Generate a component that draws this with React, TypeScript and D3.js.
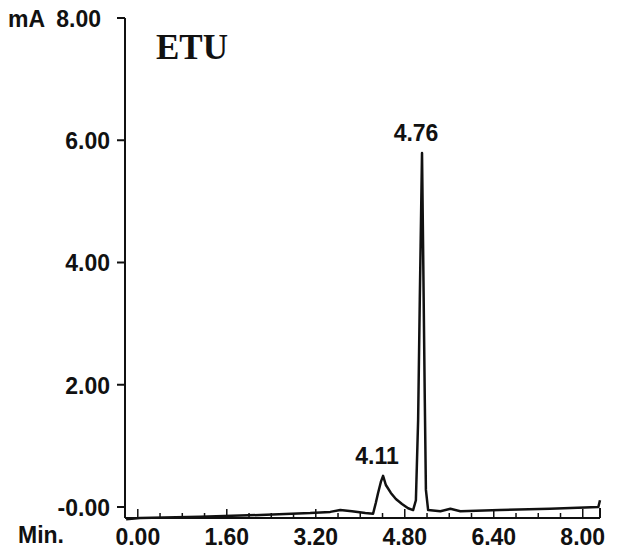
import React, { useEffect, useRef } from "react";
import * as d3 from "d3";

// chromatogram trace (time in min, signal in mA)
const traceTime = [
  -0.21, 0.04, 1.12, 2.2, 3.1, 3.46, 3.64, 3.85, 4.09, 4.23, 4.28, 4.32, 4.37,
  4.41, 4.46, 4.55, 4.64, 4.75, 4.86, 4.95, 5.0, 5.04, 5.07, 5.11, 5.13, 5.16,
  5.18, 5.22, 5.44, 5.62, 5.8, 6.51, 7.41, 8.28, 8.31,
];
const traceSignal = [
  -0.2, -0.18, -0.16, -0.13, -0.1, -0.08, -0.05, -0.07, -0.1, -0.11, 0.07, 0.23,
  0.41, 0.51, 0.36, 0.23, 0.13, 0.05, -0.02, -0.05, 0.11, 1.42, 3.39, 5.79,
  4.21, 1.75, 0.28, -0.05, -0.07, -0.03, -0.07, -0.05, -0.03, 0.0, 0.11,
];

const peakTimes = [4.41, 5.11];
const peakHeights = [0.51, 5.79];
const peakLabels = ["4.11", "4.76"];

const xTicks = [0, 1.6, 3.2, 4.8, 6.4, 8];
const xTickLabels = ["0.00", "1.60", "3.20", "4.80", "6.40", "8.00"];
const yTicks = [0, 2, 4, 6, 8];
const yTickLabels = ["-0.00", "2.00", "4.00", "6.00", "8.00"];

const App = () => {
  const svgRef = useRef<SVGSVGElement>(null);

  useEffect(() => {
    const width = 629;
    const height = 552;
    const svg = d3.select(svgRef.current);
    svg.selectAll("*").remove();
    svg.attr("width", width).attr("height", height);

    const font = "'Liberation Sans', Arial, sans-serif";
    const fs = 23;

    // escalas
    const x = d3.scaleLinear().domain([-0.23, 8.31]).range([125, 600]);
    const y = d3.scaleLinear().domain([-0.18, 8]).range([518, 18]);

    const ink = "#111";

    // eje Y
    svg
      .append("line")
      .attr("x1", x(-0.23))
      .attr("x2", x(-0.23))
      .attr("y1", y(8))
      .attr("y2", y(-0.18))
      .attr("stroke", ink)
      .attr("stroke-width", 2);

    const yAxis = svg.append("g");
    yTicks.forEach((t, i) => {
      yAxis
        .append("line")
        .attr("x1", x(-0.23) - 8)
        .attr("x2", x(-0.23))
        .attr("y1", y(t))
        .attr("y2", y(t))
        .attr("stroke", ink)
        .attr("stroke-width", 2);
      yAxis
        .append("text")
        .attr("x", x(-0.23) - (t === 8 ? 24 : 15))
        .attr("y", y(t) + 9)
        .attr("text-anchor", "end")
        .attr("font-family", font)
        .attr("font-weight", 700)
        .attr("font-size", fs)
        .attr("fill", ink)
        .text(yTickLabels[i]);
    });
    yAxis
      .append("text")
      .attr("x", 8)
      .attr("y", y(8) + 9)
      .attr("font-family", font)
      .attr("font-weight", 700)
      .attr("font-size", fs)
      .attr("fill", ink)
      .text("mA");

    // eje X
    svg
      .append("line")
      .attr("x1", x(-0.23))
      .attr("x2", x(8.31))
      .attr("y1", y(-0.18))
      .attr("y2", y(-0.18))
      .attr("stroke", ink)
      .attr("stroke-width", 2);

    const minor = d3.range(0, 8.31, 0.4);
    svg
      .append("g")
      .selectAll("line")
      .data(minor)
      .join("line")
      .attr("x1", (d) => x(d))
      .attr("x2", (d) => x(d))
      .attr("y1", y(-0.18))
      .attr("y2", (d, i) => y(-0.18) - (i % 4 === 0 ? 9 : 5))
      .attr("stroke", ink)
      .attr("stroke-width", 1.5);

    svg
      .append("line")
      .attr("x1", x(8.31))
      .attr("x2", x(8.31))
      .attr("y1", y(-0.18))
      .attr("y2", y(-0.18) - 10)
      .attr("stroke", ink)
      .attr("stroke-width", 2);

    svg
      .append("g")
      .selectAll("text")
      .data(xTicks)
      .join("text")
      .attr("x", (d) => x(d))
      .attr("y", 545)
      .attr("text-anchor", "middle")
      .attr("font-family", font)
      .attr("font-weight", 700)
      .attr("font-size", fs)
      .attr("fill", ink)
      .text((d, i) => xTickLabels[i]);

    svg
      .append("text")
      .attr("x", 18)
      .attr("y", 543)
      .attr("font-family", font)
      .attr("font-weight", 700)
      .attr("font-size", fs)
      .attr("fill", ink)
      .text("Min.");

    // traza
    const line = d3
      .line<number>()
      .x((d, i) => x(traceTime[i]))
      .y((d) => y(d));

    svg
      .append("path")
      .datum(traceSignal)
      .attr("fill", "none")
      .attr("stroke", ink)
      .attr("stroke-width", 2.5)
      .attr("stroke-linejoin", "round")
      .attr("d", line);

    // etiquetas de picos
    svg
      .append("g")
      .selectAll("text")
      .data(peakTimes)
      .join("text")
      .attr("x", (d) => x(d) - 6)
      .attr("y", (d, i) => y(peakHeights[i]) - 12)
      .attr("text-anchor", "middle")
      .attr("font-family", font)
      .attr("font-weight", 700)
      .attr("font-size", fs)
      .attr("fill", ink)
      .text((d, i) => peakLabels[i]);

    // título
    svg
      .append("text")
      .attr("x", 156)
      .attr("y", 59)
      .attr("font-family", "'Liberation Serif', 'Times New Roman', serif")
      .attr("font-weight", 700)
      .attr("font-size", 35)
      .attr("fill", ink)
      .text("ETU");
  }, []);

  return (
    <div style={{ position: "absolute", left: 0, top: 0, background: "#fff" }}>
      <svg ref={svgRef} style={{ display: "block" }}></svg>
    </div>
  );
};

export default App;
